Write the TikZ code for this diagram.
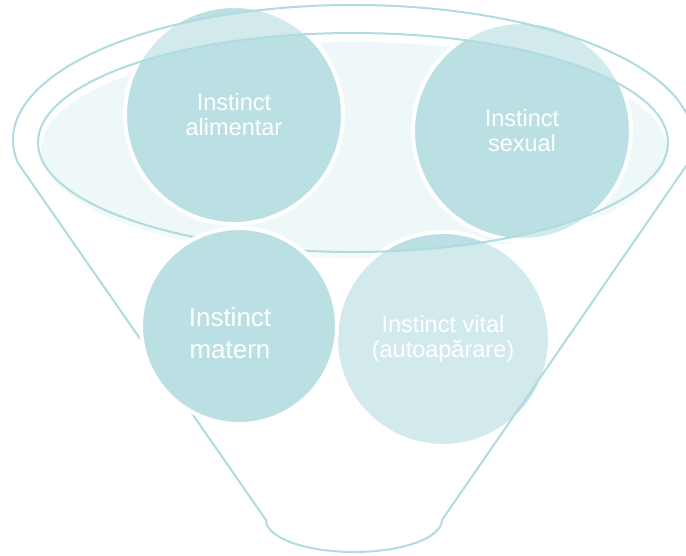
\documentclass[tikz,border=0pt]{standalone}
\usepackage{fontspec}
\setmainfont{Liberation Sans}

\definecolor{circfill}{HTML}{BBE0E3}
\definecolor{funnelline}{HTML}{B0DBE0}
\definecolor{rimfill}{HTML}{EFF8F8}

\begin{document}
\begin{tikzpicture}[x=1pt,y=-1pt,
    instinct/.style={circle,fill=circfill,draw=white,line width=4pt,inner sep=0pt,
        text=white,align=center,font=\fontsize{23.5}{25}\selectfont},
    funnel/.style={draw=funnelline,line width=2pt}]

\useasboundingbox (0,0) rectangle (686,555);

% Rim surface
\fill[rimfill] (354,150) ellipse [x radius=313, y radius=108];

% Circles in the funnel
\node[instinct,minimum size=218pt] (alimentar) at (234,115) {Instinct\\alimentar};
\node[instinct,minimum size=218pt] (sexual) at (522,131) {Instinct\\sexual};
\node[instinct,minimum size=214pt] (vital) at (443,339) {Instinct vital\\(autoapărare)};

% Funnel body and rim
\draw[funnel,fill=white,fill opacity=0.35,even odd rule]
    (18.2,163.4) arc [start angle=170, end angle=370, x radius=340, y radius=135]
    -- (442,520) arc [start angle=0, end angle=180, x radius=88, y radius=32]
    -- cycle
    (353,142.5) ellipse [x radius=315, y radius=109.5];

% Circle in front
\node[instinct,minimum size=196pt] (matern) at (239,326) {};
\node[text=white,align=center,font=\fontsize{26}{32}\selectfont] (maternlabel)
    at ([xshift=-9pt,yshift=-7pt]matern.center) {Instinct\\matern};

\end{tikzpicture}
\end{document}
